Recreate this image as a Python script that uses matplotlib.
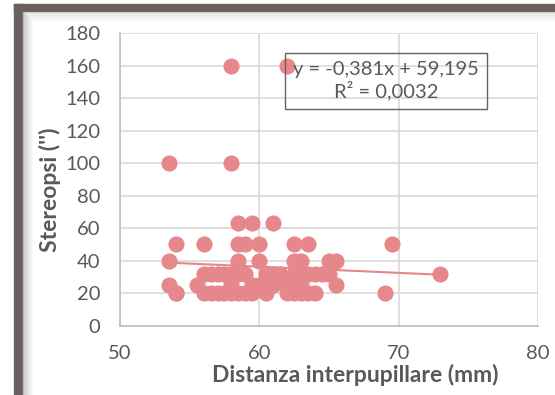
import numpy as np
import matplotlib.pyplot as plt
from matplotlib.patches import Rectangle

# Distanza interpupillare (mm) vs Stereopsi ('')
ipd = [53.5, 58, 58, 62,
       53.5, 53.5, 54, 54, 56, 58.5, 59, 60, 62.5, 63.5, 69.5,
       58.5, 59.5, 61,
       58.5, 60, 62.5, 63, 65, 65.5,
       56, 56.5, 57, 57.5, 58, 58.5, 59, 60.5, 61, 61.5, 62.5, 63, 63.5, 64, 64.5, 65, 73,
       55.5, 58, 59.5, 60, 60.5, 61, 62, 62.5, 63, 65.5,
       54, 56, 56.5, 57, 57.5, 58, 58.5, 59, 59.5, 60.5, 62, 62.5, 63, 63.5, 64, 69]
stereo = [100, 100, 160, 160,
          40, 25, 20, 50, 50, 50, 50, 50, 50, 50, 50,
          63, 63, 63,
          40, 40, 40, 40, 40, 40,
          32, 32, 32, 32, 32, 32, 32, 32, 32, 32, 32, 32, 32, 32, 32, 32, 32,
          25, 25, 25, 25, 25, 25, 25, 25, 25, 25,
          20, 20, 20, 20, 20, 20, 20, 20, 20, 20, 20, 20, 20, 20, 20, 20]

slope, intercept = -0.381, 59.195
eq_label = "y = -0,381x + 59,195\nR² = 0,0032"
x_ticks = [50, 60, 70, 80]
y_ticks = list(range(0, 181, 20))

point_color = '#E6878B'
text_color = '#595959'
frame_color = '#6B605D'

plt.rcParams['font.family'] = ['Lato', 'DejaVu Sans']

fig = plt.figure(figsize=(5.55, 3.95), dpi=100)
W, H = 555, 395

# frame: thick bar on the left and top with soft inner shadow
fig.patches.append(Rectangle((14 / W, 0), 8 / W, (H - 4) / H, transform=fig.transFigure,
                             color=frame_color, zorder=0))
fig.patches.append(Rectangle((14 / W, (H - 11) / H), (W - 14) / W, 7 / H, transform=fig.transFigure,
                             color=frame_color, zorder=0))
for i in range(11):
    a = 0.45 * (1 - i / 11)
    fig.patches.append(Rectangle(((22 + i) / W, 0), 1 / W, (H - 11 - i) / H, transform=fig.transFigure,
                                 color='#808080', alpha=a, lw=0, zorder=0))
    fig.patches.append(Rectangle(((23 + i) / W, (H - 12 - i) / H), (W - 23 - i) / W, 1 / H,
                                 transform=fig.transFigure, color='#808080', alpha=a * 0.5, lw=0, zorder=0))

ax = fig.add_axes([120 / W, 69.3 / H, 418 / W, 292.4 / H])
ax.set_facecolor('none')
ax.set_xlim(50, 80)
ax.set_ylim(0, 180)
ax.set_xticks(x_ticks)
ax.set_yticks(y_ticks)
ax.grid(True, color='#D9D9D9', lw=1.2)
ax.set_axisbelow(True)
for s in ['top', 'right']:
    ax.spines[s].set_visible(False)
for s in ['left', 'bottom']:
    ax.spines[s].set_color('#BFBFBF')
    ax.spines[s].set_linewidth(1.2)
ax.tick_params(length=0, labelsize=14.5, colors=text_color, pad=14)

ax.scatter(ipd, stereo, s=135, color=point_color, lw=0, zorder=3)

xs = np.array([min(ipd), max(ipd)])
ax.plot(xs, slope * xs + intercept, color=point_color, lw=1.5, zorder=2)

ax.text(386 / W, (H - 81) / H, eq_label, transform=fig.transFigure, ha='center', va='center',
        fontsize=14.5, color=text_color, linespacing=1.15, zorder=4,
        bbox=dict(boxstyle='square,pad=0.4', fc='none', ec=frame_color, lw=1))

fig.text(355 / W, (H - 375) / H, 'Distanza interpupillare (mm)', ha='center', va='center',
         fontsize=16.5, fontweight='bold', color=text_color)
fig.text(50 / W, (H - 190) / H, "Stereopsi ('')", ha='center', va='center', rotation=90,
         fontsize=16.5, fontweight='bold', color=text_color)

fig.savefig('out.png', dpi=100)
